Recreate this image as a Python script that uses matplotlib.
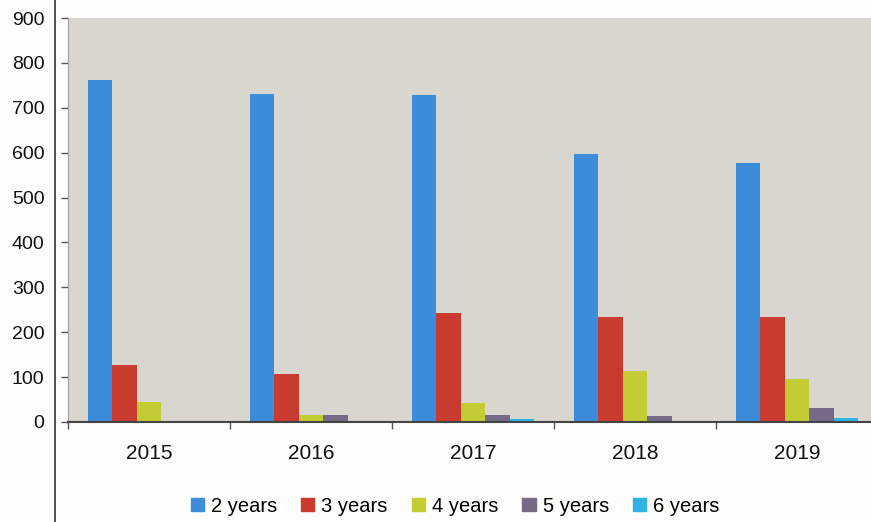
import matplotlib
matplotlib.use("Agg")
import matplotlib.pyplot as plt
import numpy as np
from matplotlib.lines import Line2D

years = ["2015", "2016", "2017", "2018", "2019"]
series_names = ["2 years", "3 years", "4 years", "5 years", "6 years"]
v2 = [762, 730, 728, 597, 578]
v3 = [128, 108, 242, 233, 233]
v4 = [44, 15, 42, 114, 95]
v5 = [0, 15, 16, 13, 31]
v6 = [0, 0, 6, 1, 8]
yticks = [0, 100, 200, 300, 400, 500, 600, 700, 800, 900]

colors = ["#3d8cd9", "#c93a2f", "#c3cc35", "#776a86", "#2fb2e4"]

plt.rcParams['font.family'] = ['Liberation Sans', 'DejaVu Sans']

W, H = 871, 522
fig = plt.figure(figsize=(W / 100, H / 100), dpi=100)
fig.patch.set_facecolor("#fdfdfb")

left, right, bottom, top = 68, 878, 422, 18
ax = fig.add_axes([left / W, (H - bottom) / H, (right - left) / W, (bottom - top) / H])
ax.set_facecolor("#d9d6cf")

x = np.arange(len(years))
bw = 0.151
allv = [v2, v3, v4, v5, v6]
for i, (vals, c, name) in enumerate(zip(allv, colors, series_names)):
    ax.bar(x + (i - 2) * bw, vals, width=bw, color=c, label=name, linewidth=0)

ax.set_xlim(-0.5, len(years) - 0.5)
ax.set_ylim(0, 900)
ax.set_yticks(yticks)
ax.set_yticklabels([str(t) for t in yticks], fontsize=14, color="#111111")
ax.set_xticks(x)
ax.set_xticklabels(years, fontsize=15, color="#111111")
ax.tick_params(axis="x", which="major", length=0, pad=16)
ax.set_xticks(np.arange(-0.5, len(years), 1.0), minor=True)
ax.tick_params(axis="x", which="minor", length=5, width=1.0, color="#555555", direction="out")
ax.tick_params(axis="y", length=5, width=1.0, color="#555555", pad=12)

for s in ["top", "right"]:
    ax.spines[s].set_visible(False)
ax.spines["left"].set_color("#a0a0a0")
ax.spines["left"].set_linewidth(0.8)
ax.spines["bottom"].set_color("#444444")
ax.spines["bottom"].set_linewidth(1.5)

# page border line on the left
fig.add_artist(Line2D([54.5 / W, 54.5 / W], [0, 1], transform=fig.transFigure,
                      color="#333333", linewidth=1.2))

handles = [plt.Rectangle((0, 0), 1, 1, color=c) for c in colors]
fig.legend(handles, series_names, loc="center", bbox_to_anchor=(455 / W, (H - 506) / H),
           ncol=5, frameon=False, fontsize=14.5, handlelength=0.65, handleheight=0.65,
           handletextpad=0.35, columnspacing=1.2, borderpad=0, borderaxespad=0)

fig.savefig("out.png", dpi=100, facecolor=fig.get_facecolor())
